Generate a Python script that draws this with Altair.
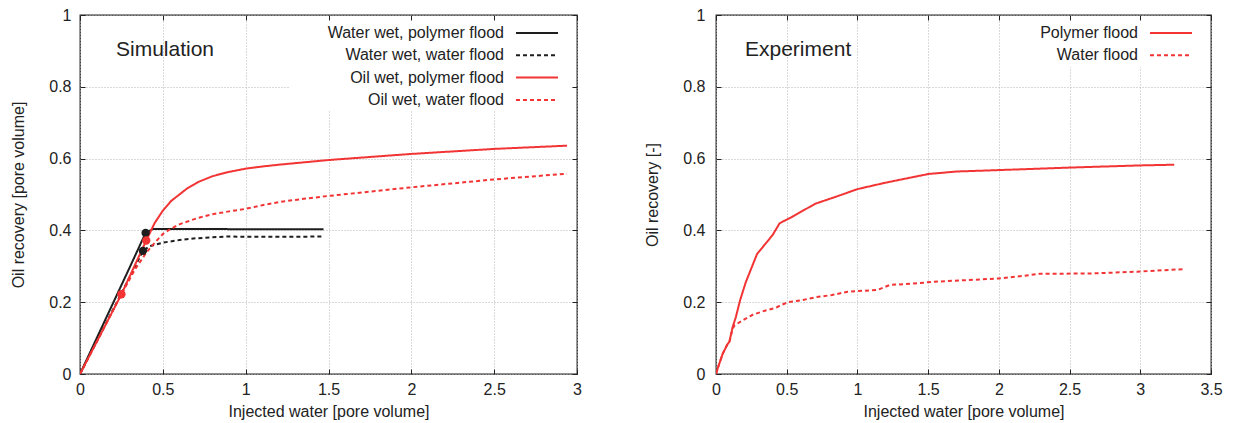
import altair as alt
import pandas as pd

# ---------------- data ----------------
sim_series = ["Water wet, polymer flood", "Water wet, water flood",
              "Oil wet, polymer flood", "Oil wet, water flood"]

ww_poly_x = [0, 0.1, 0.2, 0.3, 0.396, 0.44, 0.6, 0.8, 1.0, 1.2, 1.47]
ww_poly_y = [0, 0.099, 0.198, 0.297, 0.393, 0.404, 0.404, 0.404, 0.403, 0.403, 0.403]

ww_water_x = [0, 0.1, 0.2, 0.3, 0.38, 0.42, 0.5, 0.6, 0.7, 0.8, 0.9, 1.0, 1.2, 1.47]
ww_water_y = [0, 0.09, 0.18, 0.27, 0.343, 0.356, 0.366, 0.373, 0.378, 0.381, 0.383, 0.382, 0.382, 0.383]

ow_poly_x = [0, 0.25, 0.4, 0.45, 0.5, 0.55, 0.6, 0.65, 0.72, 0.8, 0.9, 1.0, 1.1, 1.2,
             1.5, 2.0, 2.5, 2.94]
ow_poly_y = [0, 0.222, 0.372, 0.42, 0.455, 0.482, 0.5, 0.518, 0.536, 0.551, 0.563, 0.572,
             0.578, 0.583, 0.596, 0.613, 0.627, 0.636]

ow_water_x = [0, 0.25, 0.33, 0.4, 0.45, 0.5, 0.55, 0.6, 0.7, 0.8, 0.9, 1.0, 1.1, 1.2,
              1.35, 1.5, 1.75, 2.0, 2.25, 2.5, 2.75, 2.94]
ow_water_y = [0, 0.222, 0.29, 0.338, 0.365, 0.39, 0.405, 0.417, 0.433, 0.445, 0.453, 0.46,
              0.47, 0.479, 0.488, 0.496, 0.508, 0.52, 0.531, 0.542, 0.551, 0.558]

# breakthrough markers (simulation)
pt_x = [0.38, 0.396, 0.25, 0.4]
pt_y = [0.343, 0.393, 0.222, 0.372]
pt_series = ["Water wet, water flood", "Water wet, polymer flood",
             "Oil wet, water flood", "Oil wet, polymer flood"]

exp_series = ["Polymer flood", "Water flood"]

exp_poly_x = [0, 0.02, 0.047, 0.08, 0.095, 0.117, 0.14, 0.17, 0.21, 0.29, 0.4, 0.45,
              0.54, 0.7, 0.85, 1.0, 1.2, 1.5, 1.7, 2.0, 2.5, 3.0, 3.24]
exp_poly_y = [0, 0.025, 0.056, 0.082, 0.09, 0.13, 0.158, 0.205, 0.255, 0.334, 0.387, 0.42,
              0.438, 0.474, 0.494, 0.515, 0.533, 0.557, 0.564, 0.568, 0.575, 0.581, 0.583]

exp_water_x = [0, 0.02, 0.047, 0.08, 0.095, 0.117, 0.13, 0.19, 0.26, 0.35, 0.42, 0.46,
               0.51, 0.6, 0.707, 0.82, 0.93, 1.0, 1.14, 1.23, 1.43, 1.54, 2.0, 2.12,
               2.29, 2.65, 2.98, 3.30]
exp_water_y = [0, 0.025, 0.056, 0.082, 0.09, 0.125, 0.135, 0.15, 0.165, 0.177, 0.184, 0.192,
               0.2, 0.205, 0.214, 0.22, 0.229, 0.231, 0.234, 0.248, 0.253, 0.257, 0.266, 0.271,
               0.279, 0.28, 0.285, 0.292]

sim_xticks = [0, 0.5, 1, 1.5, 2, 2.5, 3]
exp_xticks = [0, 0.5, 1, 1.5, 2, 2.5, 3, 3.5]
yticks = [0, 0.2, 0.4, 0.6, 0.8, 1]

# ---------------- style ----------------
RED = "#f23434"
BLACK = "#1e1e1e"
TXT = "#222222"
FONT = "Liberation Sans"
SOLID = [1, 0]
DASH = [4, 3]

W1, W2, H = 497, 495, 359


def long_df(names, xs_list, ys_list):
    rows = []
    for name, xs, ys in zip(names, xs_list, ys_list):
        for i, (xv, yv) in enumerate(zip(xs, ys)):
            rows.append({"series": name, "x": xv, "y": yv, "order": i})
    return pd.DataFrame(rows)


sim_df = long_df(sim_series, [ww_poly_x, ww_water_x, ow_poly_x, ow_water_x],
                 [ww_poly_y, ww_water_y, ow_poly_y, ow_water_y])
exp_df = long_df(exp_series, [exp_poly_x, exp_water_x], [exp_poly_y, exp_water_y])
pts_df = pd.DataFrame({"series": pt_series, "x": pt_x, "y": pt_y})


def panel(df, series, colors, dashes, xmax, xticks, ytitle, label, label_x, W,
          leg_bg_x, leg_bg_y2, ylab_pad, pts=None):
    xs = alt.Scale(domain=[0, xmax], nice=False)
    ys = alt.Scale(domain=[0, 1], nice=False)
    color = alt.Color("series:N", scale=alt.Scale(domain=series, range=colors), legend=None)
    dash = alt.StrokeDash("series:N", scale=alt.Scale(domain=series, range=dashes), legend=None)

    x_main = alt.X("x:Q", scale=xs, title="Injected water [pore volume]",
                   axis=alt.Axis(values=xticks, orient="bottom", offset=-5, tickSize=5,
                                 domain=False, grid=True, format="~g", labelFlush=False,
                                 labelPadding=7, titlePadding=6))
    y_main = alt.Y("y:Q", scale=ys, title=ytitle,
                   axis=alt.Axis(values=yticks, orient="left", offset=-5, tickSize=5,
                                 domain=False, grid=True, format="~g", labelFlush=False,
                                 labelPadding=ylab_pad, titlePadding=22))

    layers = []
    # legend background box (opaque, like gnuplot key box)
    bg = alt.Chart(pd.DataFrame({"k": [0]})).mark_rect(color="white").encode(
        x=alt.value(leg_bg_x), x2=alt.value(W - 6), y=alt.value(6), y2=alt.value(leg_bg_y2))
    layers.append(bg)

    lines = alt.Chart(df).mark_line(strokeWidth=2, clip=True).encode(
        x=x_main, y=y_main, color=color, strokeDash=dash, order="order:Q")
    layers.append(lines)

    if pts is not None:
        p = alt.Chart(pts).mark_circle(size=70, opacity=1).encode(
            x=alt.X("x:Q", scale=xs, axis=None),
            y=alt.Y("y:Q", scale=ys, axis=None),
            color=color)
        layers.append(p)

    # inward ticks on top / right borders
    ticks = alt.Chart(df).mark_point(opacity=0).encode(
        x=alt.X("x:Q", scale=xs, title=None,
                axis=alt.Axis(values=xticks, orient="top", offset=-5, tickSize=5,
                              domain=False, grid=False, labels=False)),
        y=alt.Y("y:Q", scale=ys, title=None,
                axis=alt.Axis(values=yticks, orient="right", offset=-5, tickSize=5,
                              domain=False, grid=False, labels=False)))
    layers.append(ticks)

    # manual key: label on the left, sample on the right
    for i, (name, c, d) in enumerate(zip(series, colors, dashes)):
        ry = 18 + 22.3 * i
        t = alt.Chart(pd.DataFrame({"name": [name]})).mark_text(
            align="right", baseline="middle", fontSize=16, font=FONT, color=TXT).encode(
            x=alt.value(W - 73), y=alt.value(ry), text="name:N")
        r = alt.Chart(pd.DataFrame({"name": [name]})).mark_rule(
            color=c, strokeDash=d, strokeWidth=2).encode(
            x=alt.value(W - 61), x2=alt.value(W - 19), y=alt.value(ry))
        layers += [t, r]

    lab = alt.Chart(pd.DataFrame({"t": [label]})).mark_text(
        align="left", baseline="middle", fontSize=21, font=FONT, color=TXT).encode(
        x=alt.value(label_x), y=alt.value(35), text="t:N")
    layers.append(lab)

    return alt.layer(*layers).resolve_axis(x="independent", y="independent").properties(
        width=W, height=H)


left = panel(sim_df, sim_series, [BLACK, BLACK, RED, RED], [SOLID, DASH, SOLID, DASH],
             3, sim_xticks, "Oil recovery [pore volume]", "Simulation", 36, W1,
             209, 95, 9, pts=pts_df)
right = panel(exp_df, exp_series, [RED, RED], [SOLID, DASH],
              3.5, exp_xticks, "Oil recovery [-]", "Experiment", 29, W2,
              314, 52, 11)

chart = alt.hconcat(left, right, spacing=61).resolve_scale(
    color="independent", strokeDash="independent"
).properties(
    padding={"left": 2, "top": -2, "right": 0, "bottom": 0}
).configure_view(stroke="#222222", strokeWidth=1.3).configure_axis(
    labelFont=FONT, titleFont=FONT, labelFontSize=16, titleFontSize=16,
    titleFontWeight="normal", labelColor=TXT, titleColor=TXT,
    tickColor="#222222", tickWidth=1, gridColor="#b4b4b4", gridDash=[1, 2], gridWidth=1
)

chart.save("out.html", embed_options={"renderer": "svg", "actions": False})
